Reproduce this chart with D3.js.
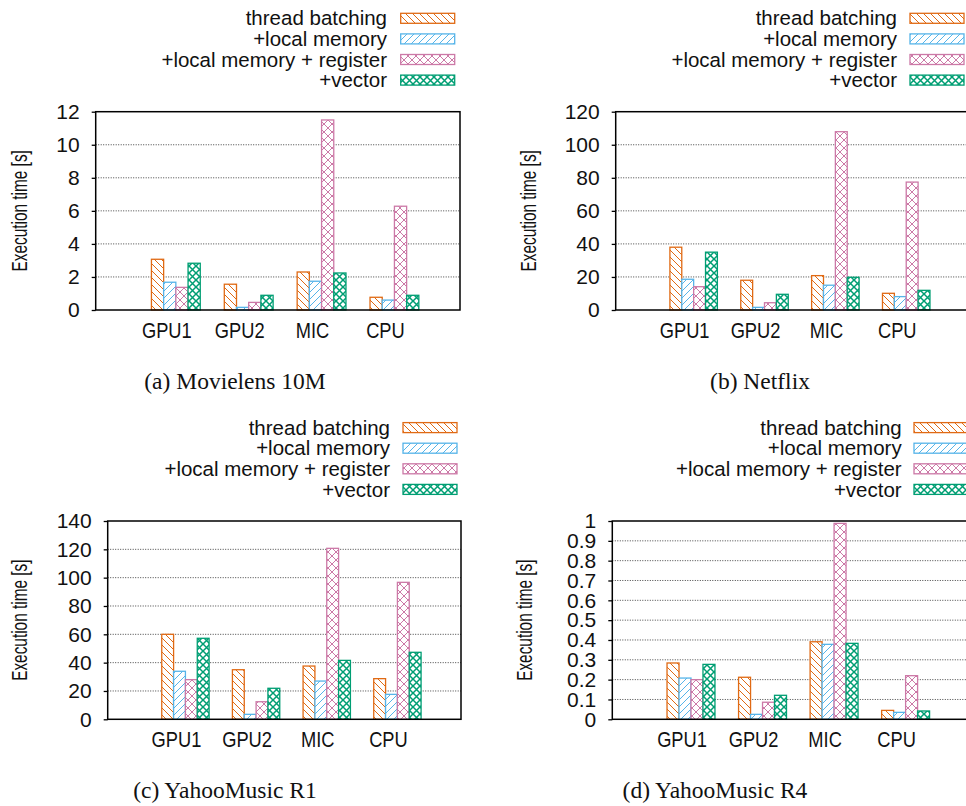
<!DOCTYPE html>
<html>
<head>
<meta charset="utf-8">
<script src="https://cdn.jsdelivr.net/npm/d3@7"></script>
<style>
  body { margin: 0; background: #fff; }
  svg { display: block; font-family: "Liberation Sans", Arial, Helvetica, sans-serif; }
</style>
</head>
<body>
<svg id="svg"></svg>
<script>
var categories = ["GPU1", "GPU2", "MIC", "CPU"];
var seriesNames = ["thread batching", "+local memory", "+local memory + register", "+vector"];
var seriesColors = ["#e06a14", "#56b4e9", "#cc79a7", "#009e73"];

// (a) Movielens 10M
var ml10mThread = [3.07, 1.56, 2.30, 0.77];
var ml10mLocal  = [1.68, 0.16, 1.74, 0.60];
var ml10mReg    = [1.37, 0.46, 11.5, 6.28];
var ml10mVec    = [2.83, 0.89, 2.24, 0.89];
var ml10mTicks  = [0, 2, 4, 6, 8, 10, 12];

// (b) Netflix
var netflixThread = [38, 18, 20.8, 10.1];
var netflixLocal  = [18.6, 1.6, 15, 8.1];
var netflixReg    = [14.1, 4.4, 107.9, 77.4];
var netflixVec    = [35, 9.5, 19.8, 11.9];
var netflixTicks  = [0, 20, 40, 60, 80, 100, 120];

// (c) YahooMusic R1
var r1Thread = [60, 35, 37.6, 28.7];
var r1Local  = [33.9, 3.5, 27, 17.6];
var r1Reg    = [28, 12.4, 120.7, 96.7];
var r1Vec    = [57.2, 21.9, 41.6, 47.3];
var r1Ticks  = [0, 20, 40, 60, 80, 100, 120, 140];

// (d) YahooMusic R4
var r4Thread = [0.284, 0.212, 0.391, 0.045];
var r4Local  = [0.208, 0.025, 0.378, 0.035];
var r4Reg    = [0.200, 0.086, 0.988, 0.220];
var r4Vec    = [0.277, 0.121, 0.383, 0.042];
var r4Ticks  = [0, 0.1, 0.2, 0.3, 0.4, 0.5, 0.6, 0.7, 0.8, 0.9, 1];

var width = 966, height = 806;
var svg = d3.select("#svg").attr("width", width).attr("height", height);

// layout of the four panels
var panels = [
  { caption: "(a) Movielens 10M", series: [ml10mThread, ml10mLocal, ml10mReg, ml10mVec], ticks: ml10mTicks,
    l: 95.7, t: 111.7, r: 460, b: 310, ylabX: 19, legX: 387, keyX: 400.7, legY: 18.3, capX: 235, capY: 389 },
  { caption: "(b) Netflix", series: [netflixThread, netflixLocal, netflixReg, netflixVec], ticks: netflixTicks,
    l: 615.7, t: 111.7, r: 970, b: 310, ylabX: 528, legX: 897, keyX: 910, legY: 18.3, capX: 760, capY: 389 },
  { caption: "(c) YahooMusic R1", series: [r1Thread, r1Local, r1Reg, r1Vec], ticks: r1Ticks,
    l: 107.7, t: 521, r: 461, b: 719.3, ylabX: 19, legX: 390, keyX: 403, legY: 427.6, capX: 225, capY: 798 },
  { caption: "(d) YahooMusic R4", series: [r4Thread, r4Local, r4Reg, r4Vec], ticks: r4Ticks,
    l: 612.3, t: 521, r: 970, b: 719.3, ylabX: 524, legX: 901.7, keyX: 914, legY: 427.6, capX: 715, capY: 798 }
];

// fill patterns
var defs = svg.append("defs");
var patDefs = [
  { size: 7, d: "M0,0L7,7M-1,6L1,8M6,-1L8,1", w: 1 },
  { size: 7, d: "M0,7L7,0M-1,1L1,-1M6,8L8,6", w: 1 },
  { size: 8, d: "M0,0L8,8M0,8L8,0", w: 1 },
  { size: 7, d: "M0,0L7,7M0,7L7,0", w: 1.5 }
];
patDefs.forEach(function(p, j) {
  var pat = defs.append("pattern")
      .attr("id", "pat" + j)
      .attr("patternUnits", "userSpaceOnUse")
      .attr("width", p.size).attr("height", p.size);
  pat.append("rect").attr("width", p.size).attr("height", p.size).attr("fill", "#fff");
  pat.append("path").attr("d", p.d)
      .attr("stroke", seriesColors[j]).attr("stroke-width", p.w).attr("fill", "none");
});

var groupW = 0.67, barW = groupW / 4;

panels.forEach(function(p) {
  var g = svg.append("g");
  var x = d3.scaleLinear().domain([-1.1, 3.9]).range([p.l, p.r]);
  var ymax = p.ticks[p.ticks.length - 1];
  var y = d3.scaleLinear().domain([0, ymax]).range([p.b, p.t]);

  // grid
  g.append("g").selectAll("line")
    .data(p.ticks.filter(function(d) { return d > 0 && d < ymax; }))
    .enter().append("line")
      .attr("x1", p.l).attr("x2", p.r)
      .attr("y1", function(d) { return y(d); })
      .attr("y2", function(d) { return y(d); })
      .attr("stroke", "#444").attr("stroke-width", 1)
      .attr("stroke-dasharray", "1,1.5");

  // bars
  p.series.forEach(function(vals, j) {
    g.append("g").selectAll("rect")
      .data(vals)
      .enter().append("rect")
        .attr("x", function(d, i) { return x(i - groupW / 2 + j * barW); })
        .attr("width", x(barW) - x(0))
        .attr("y", function(d) { return y(d); })
        .attr("height", function(d) { return p.b - y(d); })
        .attr("fill", "url(#pat" + j + ")")
        .attr("stroke", seriesColors[j])
        .attr("stroke-width", 1.3);
  });

  // y axis
  var yAxis = g.append("g")
      .attr("transform", "translate(" + p.l + ",0)")
      .call(d3.axisLeft(y).tickValues(p.ticks).tickSize(4).tickPadding(12).tickFormat(function(d) { return String(d); }));
  yAxis.select(".domain").remove();
  yAxis.selectAll("line").attr("stroke", "#000").attr("stroke-width", 1.3);
  yAxis.selectAll("text")
      .attr("fill", "#111")
      .style("font-size", "21px")
      .style("font-family", "'Liberation Sans', Arial, sans-serif");

  // x labels
  g.append("g").selectAll("text")
    .data(categories)
    .enter().append("text")
      .attr("transform", function(d, i) { return "translate(" + (x(i) - 9) + "," + (p.b + 28) + ") scale(0.85,1)"; })
      .attr("text-anchor", "middle")
      .attr("fill", "#111")
      .style("font-size", "21.5px")
      .text(function(d) { return d; });

  // border
  g.append("rect")
      .attr("x", p.l).attr("y", p.t)
      .attr("width", p.r - p.l).attr("height", p.b - p.t)
      .attr("fill", "none").attr("stroke", "#000").attr("stroke-width", 1.5);

  // y label
  g.append("text")
      .attr("transform", "translate(" + p.ylabX + "," + ((p.t + p.b) / 2) + ") rotate(-90) scale(0.7,1)")
      .attr("text-anchor", "middle")
      .attr("dy", "0.35em")
      .attr("fill", "#111")
      .style("font-size", "22px")
      .text("Execution time [s]");

  // legend
  var leg = g.append("g");
  seriesNames.forEach(function(name, j) {
    var ly = p.legY + j * 20.6;
    leg.append("text")
        .attr("x", p.legX).attr("y", ly).attr("dy", "0.35em")
        .attr("text-anchor", "end")
        .attr("fill", "#111")
        .style("font-size", "20.5px")
        .text(name);
    leg.append("rect")
        .attr("x", p.keyX).attr("y", ly - 5)
        .attr("width", 54).attr("height", 10)
        .attr("fill", "url(#pat" + j + ")")
        .attr("stroke", seriesColors[j]).attr("stroke-width", 1.3);
  });

  // caption
  g.append("text")
      .attr("x", p.capX).attr("y", p.capY)
      .attr("text-anchor", "middle")
      .attr("fill", "#111")
      .style("font-family", "'Liberation Serif', 'DejaVu Serif', serif")
      .style("font-size", "23.5px")
      .text(p.caption);
});
</script>
</body>
</html>
